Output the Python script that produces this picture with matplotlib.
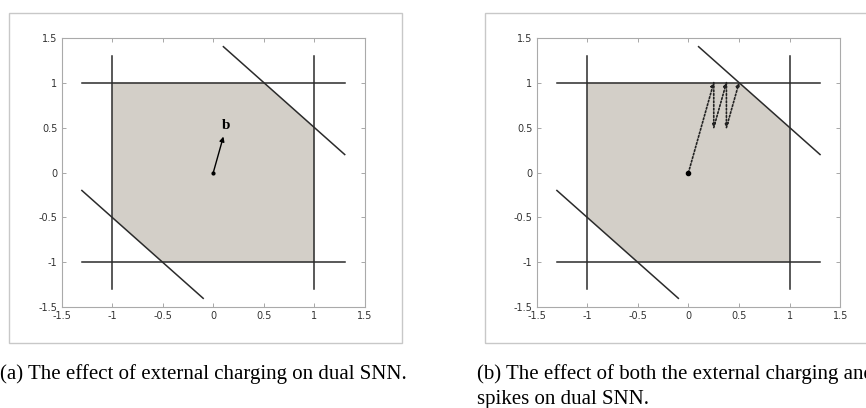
import matplotlib.pyplot as plt
from matplotlib.patches import Polygon, Rectangle

# feasible region of the dual SNN
region_x = [-1, -1, 0.5, 1, 1, -0.5]
region_y = [-0.5, 1, 1, 0.5, -1, -1]

# constraint lines (x0, y0, x1, y1)
bounds = [
    (-1, -1.3, -1, 1.3),
    (1, -1.3, 1, 1.3),
    (-1.3, 1, 1.3, 1),
    (-1.3, -1, 1.3, -1),
    (0.1, 1.4, 1.3, 0.2),
    (-1.3, -0.2, -0.1, -1.4),
]

# external charging vector b
b_vec = (0.1, 0.4)

# trajectory with spikes
path_x = [0, 0.25, 0.25, 0.375, 0.375, 0.5]
path_y = [0, 1, 0.5, 1, 0.5, 1]

ticks = [-1.5, -1, -0.5, 0, 0.5, 1, 1.5]
tick_labels = ["-1.5", "-1", "-0.5", "0", "0.5", "1", "1.5"]

captions = [
    "(a) The effect of external charging on dual SNN.",
    "(b) The effect of both the external charging and\nspikes on dual SNN.",
]

fill_col = "#d3cfc8"
line_col = "#2b2b2b"


def draw_base(ax):
    ax.add_patch(Polygon(list(zip(region_x, region_y)), closed=True,
                         facecolor=fill_col, edgecolor="none", zorder=1))
    for x0, y0, x1, y1 in bounds:
        ax.plot([x0, x1], [y0, y1], color=line_col, lw=1.1, zorder=2)
    ax.set_xlim(-1.5, 1.5)
    ax.set_ylim(-1.5, 1.5)
    ax.set_xticks(ticks)
    ax.set_yticks(ticks)
    ax.set_xticklabels(tick_labels)
    ax.set_yticklabels(tick_labels)
    ax.tick_params(direction="in", length=3, width=0.6, color="#999999",
                   labelsize=7, labelcolor="#333333", top=True, right=True,
                   pad=3)
    for s in ax.spines.values():
        s.set_color("#aaaaaa")
        s.set_linewidth(0.8)


fig = plt.figure(figsize=(8.66, 4.08), dpi=100)

# light frames around each panel
fig.patches.append(Rectangle((0.0104, 0.1593), 0.4538, 0.8088, transform=fig.transFigure,
                             fill=False, edgecolor="#c8c8c8", lw=1))
fig.patches.append(Rectangle((0.560, 0.1593), 0.50, 0.8088, transform=fig.transFigure,
                             fill=False, edgecolor="#c8c8c8", lw=1))

ax1 = fig.add_axes([0.0712, 0.2468, 0.3502, 0.6608])
ax2 = fig.add_axes([0.6197, 0.2468, 0.3506, 0.6608])

draw_base(ax1)
ax1.annotate("", xy=b_vec, xytext=(0, 0),
             arrowprops=dict(arrowstyle="-|>", color="black", lw=1.0,
                             mutation_scale=7, shrinkA=0, shrinkB=0), zorder=3)
ax1.plot(0, 0, "o", color="black", ms=2, zorder=4)
ax1.text(0.125, 0.52, "b", fontsize=11, fontweight="bold",
         family="Liberation Serif", ha="center", va="center")

draw_base(ax2)
for i in range(len(path_x) - 1):
    ax2.annotate("", xy=(path_x[i + 1], path_y[i + 1]), xytext=(path_x[i], path_y[i]),
                 arrowprops=dict(arrowstyle="-|>", color="#222222", lw=1.2,
                                 linestyle=(0, (1, 1.2)), mutation_scale=5,
                                 shrinkA=0, shrinkB=0), zorder=3)
ax2.plot(0, 0, "o", color="black", ms=3, zorder=4)

fig.text(0.0, 0.071, captions[0], fontsize=15, family="Liberation Serif",
         ha="left", va="baseline")
cap_b1, cap_b2 = captions[1].split("\n")
fig.text(0.551, 0.071, cap_b1, fontsize=15, family="Liberation Serif",
         ha="left", va="baseline")
fig.text(0.551, 0.010, cap_b2, fontsize=15, family="Liberation Serif",
         ha="left", va="baseline")

fig.savefig("out.png", dpi=100)
